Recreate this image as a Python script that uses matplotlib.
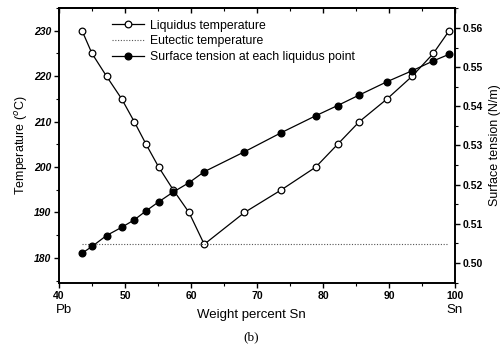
import matplotlib
matplotlib.use("Agg")
import matplotlib.pyplot as plt
from matplotlib.ticker import MultipleLocator

plt.rcParams['font.family'] = ['Liberation Sans', 'DejaVu Sans']

# Data
wt_sn = [43.5, 45.0, 47.2, 49.5, 51.4, 53.2, 55.1, 57.3, 59.7, 62.0,
         68.1, 73.7, 78.9, 82.2, 85.5, 89.7, 93.5, 96.7, 99.1]
liquidus_T = [230, 225, 220, 215, 210, 205, 200, 195, 190, 183,
              190, 195, 200, 205, 210, 215, 220, 225, 230]
surface_tension = [0.5025, 0.5042, 0.5070, 0.5091, 0.5110, 0.5133, 0.5156,
                   0.5181, 0.5205, 0.5233, 0.5284, 0.5333, 0.5376, 0.5402,
                   0.5429, 0.5463, 0.5491, 0.5516, 0.5533]
eutectic_x = [43.5, 99.0]
eutectic_T = [183, 183]

x_ticks = [40, 50, 60, 70, 80, 90, 100]
left_ticks = [180, 190, 200, 210, 220, 230]
right_ticks = [0.50, 0.51, 0.52, 0.53, 0.54, 0.55, 0.56]

fig = plt.figure(figsize=(5.02, 3.51), dpi=100)
ax = fig.add_axes([0.1175, 0.194, 0.789, 0.783])
ax2 = ax.twinx()

l1, = ax.plot(wt_sn, liquidus_T, '-o', color='black', lw=0.9,
              markersize=4.8, markerfacecolor='white', markeredgewidth=0.9,
              label='Liquidus temperature')
l2, = ax.plot(eutectic_x, eutectic_T, color='#555555', lw=0.8,
              linestyle=(0, (1, 1.5)), label='Eutectic temperature')
l3, = ax2.plot(wt_sn, surface_tension, '-o', color='black', lw=0.9,
               markersize=4.8, markerfacecolor='black',
               label='Surface tension at each liquidus point')

ax.set_xlim(40, 100)
ax.set_ylim(174.5, 235)
ax2.set_ylim(0.4949, 0.5651)

ax.set_xticks(x_ticks)
ax.set_yticks(left_ticks)
ax2.set_yticks(right_ticks)
ax.xaxis.set_minor_locator(MultipleLocator(5))
ax.yaxis.set_minor_locator(MultipleLocator(5))
ax2.yaxis.set_minor_locator(MultipleLocator(0.005))

tickfont = dict(fontsize=7.5, fontweight='bold')
ax.set_xticklabels([str(v) for v in x_ticks], **tickfont)
ax.set_yticklabels([str(v) for v in left_ticks], **tickfont, style='italic')
ax2.set_yticklabels(['%.2f' % v for v in right_ticks], **tickfont)

ax.tick_params(axis='x', which='major', direction='out', length=3.5, width=1, pad=2)
ax.tick_params(axis='x', which='minor', direction='out', length=2, width=0.8)
ax.tick_params(axis='y', which='major', direction='out', length=3.5, width=1, pad=2)
ax.tick_params(axis='y', which='minor', direction='out', length=2, width=0.8)
ax2.tick_params(axis='y', which='major', direction='out', length=3.5, width=1, pad=2)
ax2.tick_params(axis='y', which='minor', direction='out', length=2, width=0.8)

top = ax.secondary_xaxis('top')
top.set_xticks(x_ticks)
top.xaxis.set_minor_locator(MultipleLocator(5))
top.tick_params(axis='x', which='major', direction='in', length=3.5, width=1,
                labeltop=False)
top.tick_params(axis='x', which='minor', direction='in', length=2, width=0.8)
top.spines['top'].set_linewidth(1.2)

for s in ax.spines.values():
    s.set_linewidth(1.2)
for s in ax2.spines.values():
    s.set_linewidth(1.2)

ax.set_ylabel('Temperature ($^{o}$C)', fontsize=9, labelpad=3)
ax2.set_ylabel('Surface tension (N/m)', fontsize=9, labelpad=4)
fig.text(0.5, 0.102, 'Weight percent Sn', ha='center', va='center', fontsize=9.5)
fig.text(0.128, 0.117, 'Pb', ha='center', va='center', fontsize=9.5)
fig.text(0.906, 0.117, 'Sn', ha='center', va='center', fontsize=9.5)
fig.text(0.5, 0.04, '(b)', ha='center', va='center', fontsize=9.5,
         family='Liberation Serif')

ax.legend(handles=[l1, l2, l3], loc='upper left', bbox_to_anchor=(0.115, 0.985),
          frameon=False, fontsize=8.8, handlelength=2.6, handletextpad=0.5,
          labelspacing=0.3, borderaxespad=0.2)

fig.savefig('out.png', dpi=100)
